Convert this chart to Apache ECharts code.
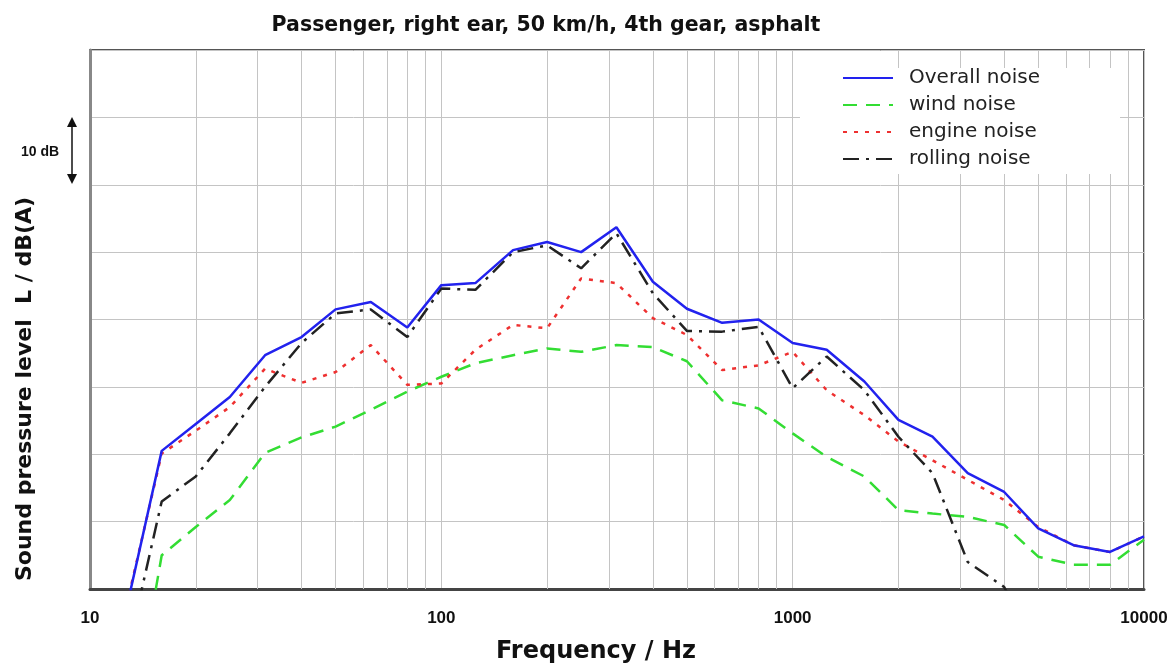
<!DOCTYPE html>
<html>
<head>
<meta charset="utf-8">
<script src="https://cdn.jsdelivr.net/npm/echarts@6/dist/echarts.min.js"></script>
<style>
  html, body { margin: 0; padding: 0; background: #fff; }
  #chart { width: 1176px; height: 664px; }
</style>
</head>
<body>
<div id="chart"></div>
<script>
// 1/3-octave band centres, Hz
const freqs = [12.5, 16, 20, 25, 31.5, 40, 50, 63, 80, 100, 125, 160, 200, 250, 315, 400,
  500, 630, 800, 1000, 1250, 1600, 2000, 2500, 3150, 4000, 5000, 6300, 8000, 10000];

// levels in dB relative to the bottom gridline (no absolute scale in the source)
const overallNoise = [-4.5, 20.5, 24.5, 28.5, 34.7, 37.4, 41.5, 42.6, 38.8, 45.1, 45.4, 50.3, 51.5, 50.0, 53.7, 45.6,
  41.6, 39.5, 40.0, 36.5, 35.5, 30.8, 25.1, 22.6, 17.2, 14.4, 9.0, 6.5, 5.5, 7.8];
const windNoise = [-27, 5.0, 9.2, 13.2, 20.2, 22.5, 24.1, 26.6, 29.3, 31.5, 33.5, 34.7, 35.7, 35.2, 36.2, 35.9,
  33.8, 28.0, 26.8, 23.1, 19.6, 16.7, 11.7, 11.2, 10.7, 9.5, 4.8, 3.6, 3.6, 7.3];
const engineNoise = [-4, 20.1, 23.5, 27.0, 32.7, 30.6, 32.2, 36.2, 30.3, 30.5, 35.5, 39.2, 38.7, 46.1, 45.4, 40.2,
  37.7, 32.5, 33.2, 35.2, 29.5, 25.8, 21.9, 19.1, 16.2, 13.2, 9.2, 6.5, 5.5, 7.8];
const rollingNoise = [-11.6, 13.0, 16.7, 23.1, 30.0, 36.5, 40.9, 41.5, 37.4, 44.6, 44.4, 50.0, 51.0, 47.6, 52.8, 43.9,
  38.3, 38.2, 38.9, 29.8, 34.5, 29.5, 22.6, 17.2, 4.0, 0.3, -10, null, null, null];

const xTickLabels = ['10', '100', '1000', '10000'];
// minor vertical gridlines of the log axis
const minorFreqs = [20, 30, 40, 50, 60, 70, 80, 90, 200, 300, 400, 500, 600, 700, 800, 900,
  2000, 3000, 4000, 5000, 6000, 7000, 8000, 9000];

const font = 'Liberation Sans, Arial, sans-serif';
const wideFont = 'DejaVu Sans, Verdana, sans-serif';
const pairs = (vals) => freqs.map((f, i) => [f, vals[i]]);

const chart = echarts.init(document.getElementById('chart'));
chart.setOption({
  animation: false,
  title: {
    text: 'Passenger, right ear, 50 km/h, 4th gear, asphalt',
    left: 541,
    top: 10,
    textAlign: 'center',
    textStyle: { fontFamily: wideFont, fontSize: 20.5, fontWeight: 'bold', color: '#111' }
  },
  legend: {
    orient: 'vertical',
    left: 800,
    top: 68,
    padding: [0, 80, 5, 42],
    backgroundColor: '#fff',
    itemWidth: 50,
    itemHeight: 14,
    itemGap: 7,
    itemStyle: { opacity: 0 },
    data: ['Overall noise', 'wind noise', 'engine noise', 'rolling noise'],
    textStyle: { fontFamily: wideFont, fontSize: 20, color: '#222', padding: [0, 0, 0, 11] }
  },
  grid: {
    left: 90, right: 32, top: 50, bottom: 75,
    outerBoundsMode: 'none',
    show: true, borderColor: '#555', borderWidth: 2
  },
  xAxis: {
    type: 'log',
    logBase: 10,
    min: 10,
    max: 10000,
    name: 'Frequency / Hz',
    nameLocation: 'middle',
    nameGap: 51,
    nameTextStyle: { fontFamily: wideFont, fontSize: 24, fontWeight: 'bold', color: '#111', padding: [0, 42, 0, 0] },
    axisLine: { lineStyle: { color: '#444', width: 3 } },
    axisTick: { show: false },
    axisLabel: {
      margin: 21,
      fontFamily: font, fontSize: 17, fontWeight: 'bold', color: '#111',
      formatter: (v) => xTickLabels.indexOf(String(v)) >= 0 ? String(v) : ''
    },
    splitLine: { show: true, lineStyle: { color: '#c4c4c4', width: 1 } }
  },
  yAxis: {
    type: 'value',
    min: 0,
    max: 80,
    interval: 10,
    axisLine: { show: true, lineStyle: { color: '#888', width: 3 } },
    axisTick: { show: false },
    axisLabel: { show: false },
    splitLine: { show: true, lineStyle: { color: '#c4c4c4', width: 1 } }
  },
  graphic: [
    {
      type: 'text', x: 25, y: 389, rotation: Math.PI / 2,
      style: {
        text: 'Sound pressure level  L / dB(A)',
        fontFamily: wideFont, fontSize: 22, fontWeight: 'bold', fill: '#111',
        align: 'center', verticalAlign: 'middle'
      }
    },
    {
      type: 'text', x: 40, y: 152,
      style: { text: '10 dB', fontFamily: font, fontSize: 14, fontWeight: 'bold', fill: '#111', align: 'center', verticalAlign: 'middle' }
    },
    { type: 'line', shape: { x1: 72, y1: 124, x2: 72, y2: 177 }, style: { stroke: '#111', lineWidth: 1.5 } },
    { type: 'polygon', shape: { points: [[72, 117], [67, 127], [77, 127]] }, style: { fill: '#111' } },
    { type: 'polygon', shape: { points: [[72, 184], [67, 174], [77, 174]] }, style: { fill: '#111' } }
  ],
  series: [
    {
      name: 'wind noise', type: 'line', symbol: 'none', data: pairs(windNoise),
      lineStyle: { color: '#33dd33', width: 2.5, type: [14, 9] },
      itemStyle: { color: '#33dd33' },
      markLine: {
        silent: true, z: 1, symbol: ['none', 'none'], label: { show: false },
        lineStyle: { color: '#c4c4c4', width: 1, type: 'solid' },
        data: minorFreqs.map((f) => ({ xAxis: f }))
      }
    },
    {
      name: 'engine noise', type: 'line', symbol: 'none', data: pairs(engineNoise),
      lineStyle: { color: '#ee3030', width: 2.5, type: [4, 7] },
      itemStyle: { color: '#ee3030' }
    },
    {
      name: 'rolling noise', type: 'line', symbol: 'none', data: pairs(rollingNoise),
      lineStyle: { color: '#222', width: 2.5, type: [16, 7, 3, 7] },
      itemStyle: { color: '#222' }
    },
    {
      name: 'Overall noise', type: 'line', symbol: 'none', data: pairs(overallNoise),
      lineStyle: { color: '#2222ee', width: 2.5 },
      itemStyle: { color: '#2222ee' }
    }
  ]
});
</script>
</body>
</html>
